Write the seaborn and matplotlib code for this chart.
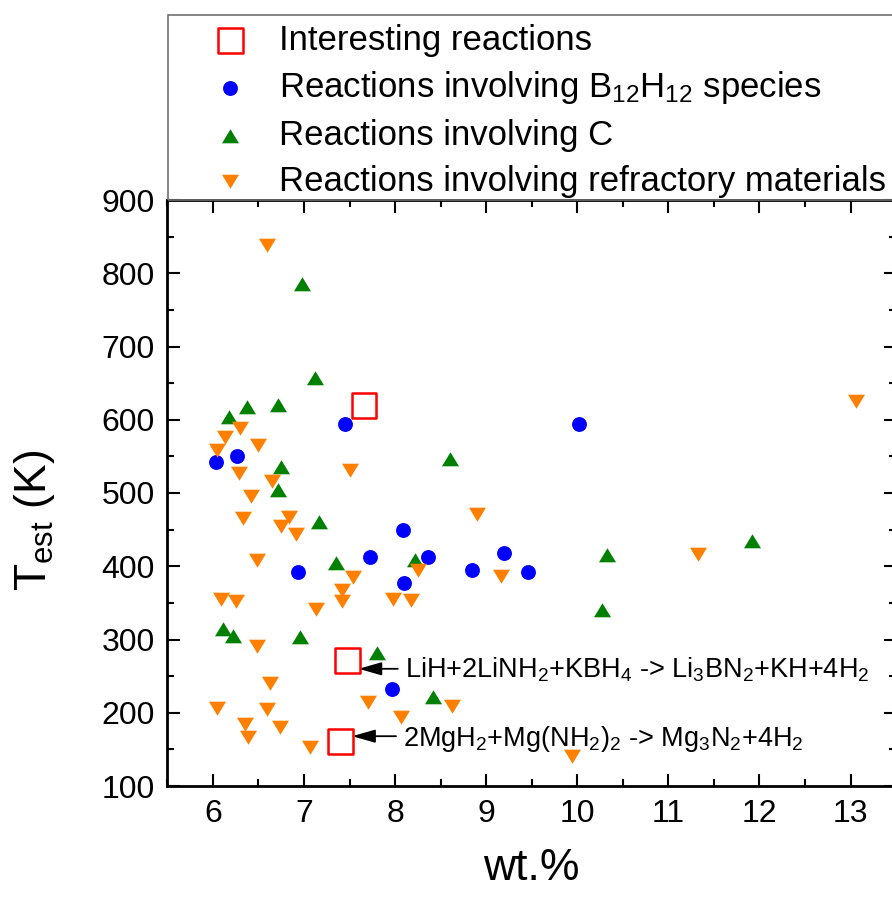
import matplotlib
matplotlib.use("Agg")
import matplotlib.pyplot as plt
import seaborn as sns
from matplotlib.patches import Rectangle
from matplotlib.ticker import MultipleLocator

# data (wt.% , T_est in K)
interesting_wt = [7.66, 7.48, 7.40]
interesting_T = [619, 271, 161]

b12h12_wt = [6.04, 6.26, 7.45, 6.94, 7.72, 8.09, 8.10, 7.97, 8.36, 8.85, 9.20, 9.46, 10.02]
b12h12_T = [542, 550, 594, 392, 413, 450, 377, 232, 413, 395, 418, 392, 594]

carbon_wt = [6.98, 7.12, 6.37, 6.71, 6.18, 6.75, 6.71, 7.17, 7.35, 8.22,
             6.11, 6.22, 6.96, 7.80, 8.42, 8.60, 10.33, 10.27, 11.92]
carbon_T = [786, 657, 618, 620, 604, 535, 504, 460, 405, 409,
            315, 305, 304, 281, 221, 547, 415, 340, 434]

refractory_wt = [6.59, 6.30, 6.13, 6.05, 6.50, 6.29, 6.65, 7.51, 6.42, 6.33,
                 6.84, 6.75, 6.91, 6.48, 7.54, 7.42, 7.42, 6.09, 6.25, 7.13,
                 7.98, 8.18, 8.25, 6.48, 6.63, 6.05, 6.59, 7.70, 8.07, 6.35,
                 6.74, 6.39, 7.07, 8.63, 9.94, 8.90, 9.16, 11.32, 13.06]
refractory_T = [838, 589, 577, 559, 566, 527, 516, 532, 496, 466,
                467, 455, 444, 409, 386, 368, 353, 355, 353, 342,
                355, 354, 395, 291, 240, 206, 205, 215, 194, 184,
                181, 167, 153, 209, 141, 472, 387, 417, 625]

labels = [
    "Interesting reactions",
    r"Reactions involving B$_{12}$H$_{12}$ species",
    "Reactions involving C",
    "Reactions involving refractory materials",
]

annot_1 = r"LiH+2LiNH$_2$+KBH$_4$ -> Li$_3$BN$_2$+KH+4H$_2$"
annot_2 = r"2MgH$_2$+Mg(NH$_2$)$_2$ -> Mg$_3$N$_2$+4H$_2$"

sns.set_style("ticks")
plt.rcParams["font.family"] = ["Liberation Sans", "DejaVu Sans"]
plt.rcParams["mathtext.fontset"] = "custom"
plt.rcParams["mathtext.rm"] = "Liberation Sans"
plt.rcParams["mathtext.default"] = "regular"
for key in ["text.color", "axes.labelcolor", "xtick.color", "ytick.color", "axes.edgecolor"]:
    plt.rcParams[key] = "black"

# wider-than-tall triangles like the original
tri_up = [(-1, -0.8), (1, -0.8), (0, 0.85), (-1, -0.8)]
tri_down = [(-1, 0.8), (1, 0.8), (0, -0.85), (-1, 0.8)]

fig = plt.figure(figsize=(8.92, 8.98), dpi=100)
ax = fig.add_axes([167.3 / 892, 112 / 898, 728.8 / 892, 586 / 898])

sns.scatterplot(x=interesting_wt, y=interesting_T, ax=ax, marker="s", s=320,
                facecolor="none", edgecolor="#ff0000", linewidth=1.8,
                label=labels[0], zorder=4)
sns.scatterplot(x=b12h12_wt, y=b12h12_T, ax=ax, marker="o", s=115,
                color="#0000ff", linewidth=0, label=labels[1], zorder=3)
sns.scatterplot(x=carbon_wt, y=carbon_T, ax=ax, marker=tri_up, s=150,
                color="#008000", linewidth=0, label=labels[2], zorder=3)
sns.scatterplot(x=refractory_wt, y=refractory_T, ax=ax, marker=tri_down, s=150,
                color="#ff8000", linewidth=0, label=labels[3], zorder=3)

ax.set_xlim(5.5, 13.5)
ax.set_ylim(100, 900)
ax.xaxis.set_major_locator(MultipleLocator(1))
ax.xaxis.set_minor_locator(MultipleLocator(0.5))
ax.yaxis.set_major_locator(MultipleLocator(100))
ax.yaxis.set_minor_locator(MultipleLocator(50))
ax.tick_params(which="both", direction="in", top=True, right=True,
               width=1.5, labelsize=23, pad=9)
ax.tick_params(which="major", length=9)
ax.tick_params(which="minor", length=5)
for sp in ax.spines.values():
    sp.set_linewidth(2)

ax.set_xlabel("wt.%", fontsize=32)
ax.set_ylabel(r"T$_{est}$ (K)", fontsize=32)
ax.xaxis.set_label_coords(0.5, -0.105)
ax.yaxis.set_label_coords(-0.152, 0.454)

# arrows pointing at the two highlighted reactions
ax.annotate("", xy=(7.60, 260), xytext=(8.03, 260),
            arrowprops=dict(arrowstyle="-|>,head_length=0.7,head_width=0.2",
                            color="black", lw=1.3, shrinkA=0, shrinkB=0,
                            mutation_scale=20))
ax.text(8.11, 248, annot_1, fontsize=19.5, va="baseline", ha="left")
ax.annotate("", xy=(7.53, 168), xytext=(8.01, 168),
            arrowprops=dict(arrowstyle="-|>,head_length=0.7,head_width=0.2",
                            color="black", lw=1.3, shrinkA=0, shrinkB=0,
                            mutation_scale=20))
ax.text(8.09, 155, annot_2, fontsize=19.5, va="baseline", ha="left")

# legend sits in a box above the axes
ax.get_legend().remove()
handles, labs = ax.get_legend_handles_labels()
fig.legend(handles, labs, loc="upper left", bbox_to_anchor=(213 / 892, 1 - 24 / 898),
           frameon=False, fontsize=25, borderpad=0, borderaxespad=0,
           handlelength=1.0, handletextpad=0.9, labelspacing=0.36)
fig.add_artist(Rectangle((168 / 892, 698 / 898), 1.0, 185 / 898,
                         transform=fig.transFigure, fill=False,
                         edgecolor="#707070", linewidth=1.2))

fig.savefig("out.png", dpi=100)
